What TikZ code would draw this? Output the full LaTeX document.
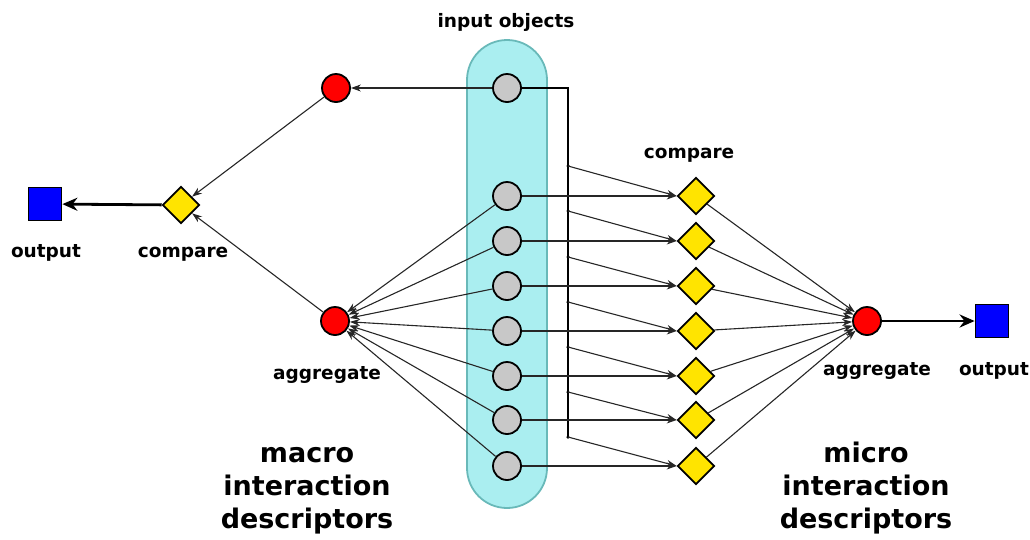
\documentclass[tikz,border=0pt]{standalone}
\usepackage{fontspec}
\setmainfont{DejaVu Sans}
\usetikzlibrary{shapes.geometric,arrows.meta}
\definecolor{capfill}{RGB}{170,238,240}
\definecolor{capline}{RGB}{105,185,185}
\definecolor{objgray}{RGB}{200,200,200}
\definecolor{cmpyellow}{RGB}{255,228,0}
\tikzset{
  obj/.style={circle,draw=black,line width=1.8pt,fill=objgray,minimum size=28pt,inner sep=0pt},
  agg/.style={circle,draw=black,line width=1.8pt,fill=red,minimum size=28pt,inner sep=0pt},
  cmp/.style={diamond,draw=black,line width=1.8pt,fill=cmpyellow,minimum size=37pt,inner sep=0pt},
  outbox/.style={rectangle,draw=black,line width=1.8pt,fill=blue,minimum size=33pt,inner sep=0pt},
  junction/.style={circle,fill=black,minimum size=3.5pt,inner sep=0pt},
  arr/.style={-{Stealth[length=10pt,width=7pt]},line width=1.1pt,black!85},
  bigarr/.style={-{Stealth[length=15pt,width=13pt]},line width=2.8pt},
  lbl/.style={font=\fontsize{18.5}{22}\selectfont\bfseries,anchor=base,inner sep=0pt},
  title/.style={font=\fontsize{27}{33}\selectfont\bfseries,anchor=base,align=center,inner sep=0pt},
}
\begin{document}
\begin{tikzpicture}[x=1pt,y=-1pt]
\useasboundingbox (0,0) rectangle (1030,539);

% container holding the input objects
\node[draw=capline,fill=capfill,line width=1.8pt,rounded corners=40pt,
      minimum width=80pt,minimum height=468pt,inner sep=0pt] (cap) at (507,274) {};

% input objects
\node[obj] (gq) at (507,88) {};
\node[obj] (g1) at (507,196) {};
\node[obj] (g2) at (507,241) {};
\node[obj] (g3) at (507,286) {};
\node[obj] (g4) at (507,331) {};
\node[obj] (g5) at (507,376) {};
\node[obj] (g6) at (507,420) {};
\node[obj] (g7) at (507,466) {};

% micro side: pairwise comparisons
\node[cmp] (d1) at (696,196) {};
\node[cmp] (d2) at (696,241) {};
\node[cmp] (d3) at (696,286) {};
\node[cmp] (d4) at (696,331) {};
\node[cmp] (d5) at (696,376) {};
\node[cmp] (d6) at (696,420) {};
\node[cmp] (d7) at (696,466) {};
\node[agg] (aggR) at (867,321) {};
\node[outbox] (outR) at (992,321) {};

% macro side
\node[agg] (aggQ) at (336,88) {};
\node[agg] (aggL) at (335,321) {};
\node[cmp] (cmpL) at (181,205) {};
\node[outbox] (outL) at (45,204) {};

% query bus
\coordinate (vtop) at (568,88);
\node[junction] (j1) at (568,166) {};
\node[junction] (j2) at (568,211) {};
\node[junction] (j3) at (568,257) {};
\node[junction] (j4) at (568,302) {};
\node[junction] (j5) at (568,347) {};
\node[junction] (j6) at (568,392) {};
\node[junction] (j7) at (568,437) {};
\draw[line width=1.3pt] (gq.east) -- (vtop) -- (j7.center);

% query feeds every comparison
\foreach \i in {1,...,7}{
  \draw[arr] (j\i.center) -- (d\i.west);
  \draw[arr] (g\i) -- (d\i);
  \draw[arr] (d\i) -- (aggR);
  \draw[arr] (g\i) -- (aggL);
}
\draw[bigarr] (aggR) -- (outR);

\draw[arr] (gq) -- (aggQ);
\draw[arr] (aggQ) -- (cmpL);
\draw[arr] (aggL) -- (cmpL);
\draw[bigarr] (cmpL) -- (outL);

% labels
\node[lbl] (tIn) at (506,27) {input objects};
\node[lbl] (tCmpR) at (689,158) {compare};
\node[lbl] (tCmpL) at (183,257) {compare};
\node[lbl] (tOutL) at (46,257) {output};
\node[lbl] (tAggL) at (327,379) {aggregate};
\node[lbl] (tAggR) at (877,375) {aggregate};
\node[lbl] (tOutR) at (994,375) {output};

\node[title] (tMacro) at (307,528) {macro\\interaction\\descriptors};
\node[title] (tMicro) at (866,528) {micro\\interaction\\descriptors};
\end{tikzpicture}
\end{document}
